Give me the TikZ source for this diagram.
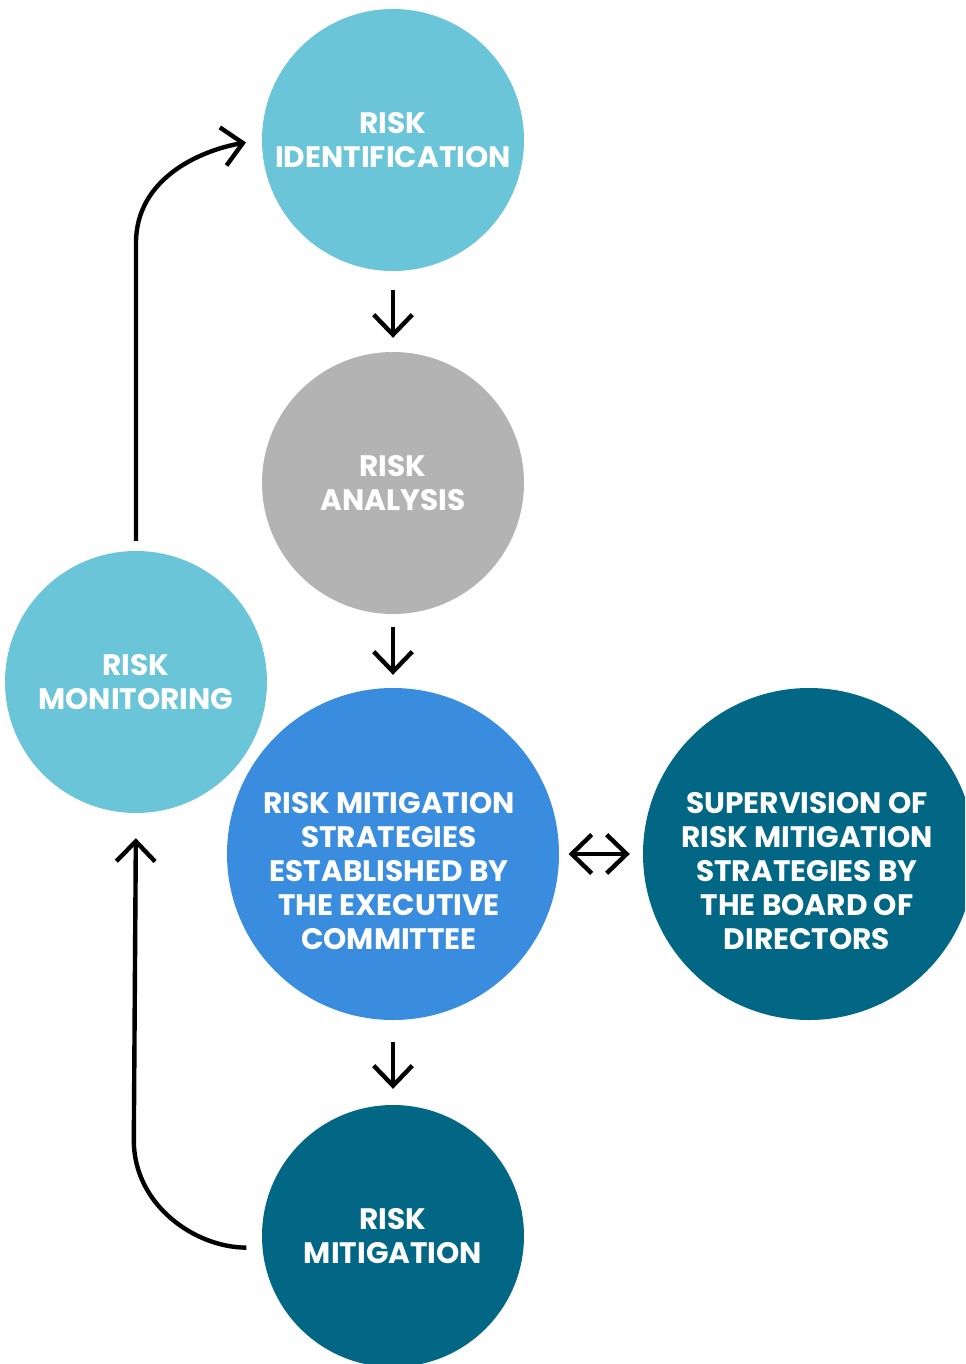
\documentclass[tikz,border=0pt]{standalone}
\usepackage{fontspec}
\usepackage{xcolor}
\usepackage{tikz}
\usetikzlibrary{arrows.meta,positioning,calc}
\newfontfamily\discfont{Poppins}
\definecolor{lightteal}{HTML}{6AC5D8}
\definecolor{midgray}{HTML}{B3B3B3}
\definecolor{brightblue}{HTML}{3A8CDE}
\definecolor{deepteal}{HTML}{016785}

\begin{document}
\begin{tikzpicture}[x=0.75pt,y=0.75pt,>={Straight Barb[length=15pt,width=29pt]},line width=3.3pt]
\tikzstyle{disc}=[circle,inner sep=0pt,minimum size=196.5pt,text=white,align=center,font=\discfont\bfseries\fontsize{22.2}{25.5}\selectfont]
\tikzstyle{bigdisc}=[disc,minimum size=249pt]
\tikzstyle{lbl}=[text=white,align=center,font=\discfont\bfseries\fontsize{22.2}{25.5}\selectfont]
\useasboundingbox (0,0) rectangle (965,-1364);
\clip (0,0) rectangle (965,-1364);
\node[disc,fill=lightteal] (ident) at (393,-140) {RISK\\IDENTIFICATION};
\node[disc,fill=midgray] (analysis) at (393,-483) {RISK\\ANALYSIS};
\node[disc,fill=lightteal] (monitor) at (136,-682) {RISK\\MONITORING};
\node[bigdisc,fill=brightblue] (strat) at (393,-854) {};
\node[lbl] (strattext) at ([xshift=-3pt,yshift=-12.75pt]strat.center) {RISK MITIGATION\\STRATEGIES\\ESTABLISHED BY\\THE EXECUTIVE\\COMMITTEE};
\node[bigdisc,fill=deepteal] (board) at (809,-854) {};
\node[lbl] (boardtext) at ([xshift=-1.5pt,yshift=-12.75pt]board.center) {SUPERVISION OF\\RISK MITIGATION\\STRATEGIES BY\\THE BOARD OF\\DIRECTORS};
\node[disc,fill=deepteal] (mitig) at (393,-1236) {RISK\\MITIGATION};
% main chain
\draw[->,shorten <=12.75pt,shorten >=9pt] (ident)--(analysis);
\draw[->,shorten <=8.25pt,shorten >=8.25pt] (analysis)--(strat);
\draw[->,shorten <=15pt,shorten >=10.5pt] (strat)--(mitig);
\draw[<->,shorten <=5.5pt,shorten >=8.25pt] (strat)--(board);
% feedback loop
\draw[->,shorten <=6pt,shorten >=10.5pt] (monitor.north)--++(0,306) to[out=90,in=190] (ident.west);
\draw[->,shorten <=10.5pt,shorten >=17.25pt] (mitig.185) to[out=180,in=-90] ++(-126.5,107.4)--(monitor.south);
\end{tikzpicture}
\end{document}
